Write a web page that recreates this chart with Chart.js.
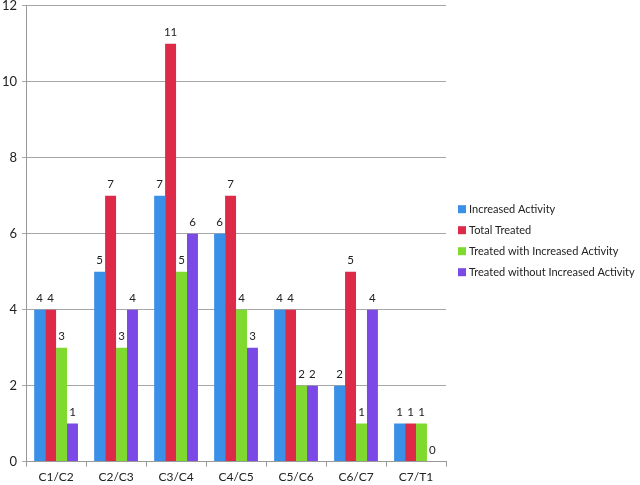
<!DOCTYPE html>
<html>
<head>
<meta charset="utf-8">
<script src="https://cdn.jsdelivr.net/npm/chart.js@4"></script>
<style>
  html, body { margin: 0; padding: 0; background: #fff; overflow: hidden; }
  /* canvas a bit taller and pulled up, so the top gridline sits close to the edge */
  #wrap { width: 640px; height: 492px; margin-top: -7px; }
</style>
</head>
<body>
<div id="wrap"><canvas id="barChart"></canvas></div>
<script>
// Data
const levels = ["C1/C2", "C2/C3", "C3/C4", "C4/C5", "C5/C6", "C6/C7", "C7/T1"];
const increasedActivity = [4, 5, 7, 6, 4, 2, 1];
const totalTreated = [4, 7, 11, 7, 4, 5, 1];
const treatedWithIncrease = [3, 3, 5, 4, 2, 1, 1];
const treatedWithoutIncrease = [1, 4, 6, 3, 2, 4, 0];

const font = "Lato, 'Open Sans', sans-serif";

// Value labels above the bars
const valueLabels = {
  id: "valueLabels",
  afterDatasetsDraw(chart) {
    const ctx = chart.ctx;
    ctx.save();
    ctx.font = "11.5px " + font;
    ctx.fillStyle = "#222";
    ctx.textAlign = "center";
    ctx.textBaseline = "bottom";
    chart.data.datasets.forEach((ds, i) => {
      chart.getDatasetMeta(i).data.forEach((bar, j) => {
        ctx.fillText(ds.data[j], bar.x, bar.y - 6);
      });
    });
    ctx.restore();
  }
};

// Legend on the right (the built-in one gets capped to 160px and clipped)
const sideLegend = {
  id: "sideLegend",
  afterDraw(chart) {
    const ctx = chart.ctx;
    const x = chart.chartArea.right + 12;
    const mid = (chart.chartArea.top + chart.chartArea.bottom) / 2 + 7;
    const step = 21;
    const n = chart.data.datasets.length;
    ctx.save();
    ctx.font = "11px " + font;
    ctx.textBaseline = "middle";
    chart.data.datasets.forEach((ds, i) => {
      const y = mid - (n - 1) * step / 2 + i * step;
      ctx.fillStyle = ds.backgroundColor;
      ctx.fillRect(x, y - 4, 8, 8);
      ctx.fillStyle = "#222";
      ctx.fillText(ds.label, x + 11, y);
    });
    ctx.restore();
  }
};

const ctx = document.getElementById("barChart");

new Chart(ctx, {
  type: "bar",
  data: {
    labels: levels,
    datasets: [
      { label: "Increased Activity", data: increasedActivity, backgroundColor: "#3a8fe6" },
      { label: "Total Treated", data: totalTreated, backgroundColor: "#dc2a48" },
      { label: "Treated with Increased Activity", data: treatedWithIncrease, backgroundColor: "#80d92e" },
      { label: "Treated without Increased Activity", data: treatedWithoutIncrease, backgroundColor: "#7b4ae6" }
    ]
  },
  options: {
    responsive: true,
    maintainAspectRatio: false,
    animation: false,
    layout: { padding: { top: 0, right: 194, left: -3, bottom: -2 } },
    datasets: { bar: { categoryPercentage: 0.73, barPercentage: 1 } },
    plugins: {
      legend: { display: false },
      tooltip: { enabled: false }
    },
    scales: {
      x: {
        grid: { drawOnChartArea: false, color: "#999", tickLength: 5 },
        border: { color: "#999" },
        ticks: { color: "#222", font: { family: font, size: 12 }, padding: 3 },
      },
      y: {
        min: 0,
        max: 12,
        ticks: { stepSize: 2, color: "#222", font: { family: font, size: 13 }, padding: 5 },
        grid: { color: "#a6a6a6", tickLength: 4 },
        border: { color: "#999" }
      }
    }
  },
  plugins: [valueLabels, sideLegend]
});
</script>
</body>
</html>
